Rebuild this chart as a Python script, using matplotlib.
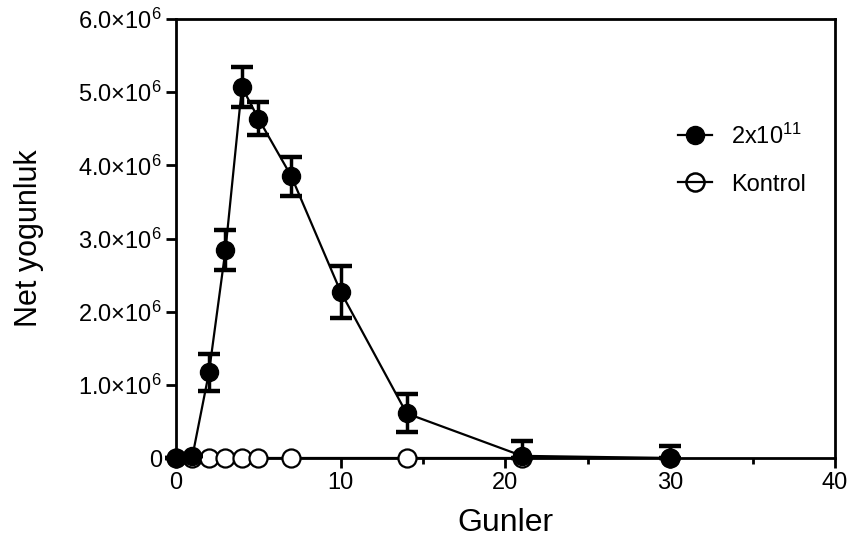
import matplotlib
matplotlib.use("Agg")
import matplotlib.pyplot as plt
from matplotlib.lines import Line2D
import numpy as np

plt.rcParams['font.family'] = ['Liberation Sans', 'DejaVu Sans']
plt.rcParams['mathtext.fontset'] = 'custom'
plt.rcParams['mathtext.rm'] = 'Liberation Sans'
plt.rcParams['mathtext.it'] = 'Liberation Sans'

days_treat = [0, 1, 2, 3, 4, 5, 7, 10, 14, 21, 30]
treat_vals = [0.0, 0.03e6, 1.17e6, 2.84e6, 5.07e6, 4.64e6, 3.85e6, 2.27e6, 0.61e6, 0.03e6, 0.0]
treat_err = [0.0, 0.0, 0.25e6, 0.27e6, 0.27e6, 0.23e6, 0.27e6, 0.35e6, 0.26e6, 0.2e6, 0.17e6]

days_ctrl = [0, 1, 2, 3, 4, 5, 7, 14, 21, 30]
ctrl_vals = [0, 0, 0, 0, 0, 0, 0, 0, 0, 0]

yticks = [0, 1e6, 2e6, 3e6, 4e6, 5e6, 6e6]
ytick_labels = ['0', '1.0×10$^{6}$', '2.0×10$^{6}$', '3.0×10$^{6}$',
                '4.0×10$^{6}$', '5.0×10$^{6}$', '6.0×10$^{6}$']
xticks = [0, 10, 20, 30, 40]
legend_labels = ['2x10$^{11}$', 'Kontrol']

fig = plt.figure(figsize=(8.52, 5.44), dpi=100)
ax = fig.add_axes([0.2066, 0.158, 0.7734, 0.807])

tv = np.array(treat_vals)
te = np.array(treat_err)
lower = np.minimum(te, tv)

ax.plot(days_ctrl, ctrl_vals, color='black', lw=1.6, marker='o', ms=13,
        mfc='white', mec='black', mew=1.6, clip_on=False, zorder=3)
ax.errorbar(days_treat, treat_vals, yerr=[lower, te], color='black', lw=1.6,
            marker='o', ms=13, mfc='black', mec='black', ecolor='black',
            elinewidth=2.5, capsize=8, capthick=3.2, zorder=4)
for line in ax.lines:
    line.set_clip_on(False)

ax.set_xlim(0, 40)
ax.set_ylim(0, 6e6)
ax.set_yticks(yticks)
ax.set_yticklabels(ytick_labels)
ax.set_xticks(xticks)
ax.set_xticks([5, 15, 25, 35], minor=True)
ax.tick_params(axis='both', which='major', labelsize=17, width=2, length=7, direction='out', pad=3)
ax.tick_params(axis='x', which='minor', width=2, length=4)
for s in ax.spines.values():
    s.set_linewidth(2)

ax.set_xlabel('Gunler', fontsize=23, labelpad=10)
ax.set_ylabel('Net yogunluk', fontsize=22)
ax.yaxis.set_label_coords(-0.2, 0.5)

handles = [
    Line2D([], [], color='black', lw=1.6, marker='o', ms=13, mfc='black', mec='black'),
    Line2D([], [], color='black', lw=1.6, marker='o', ms=13, mfc='none', mec='black', mew=1.8),
]
ax.legend(handles, legend_labels, loc='upper left',
          bbox_to_anchor=(0.762, 0.762), frameon=False, fontsize=17,
          handlelength=1.45, handletextpad=0.8, labelspacing=1.05,
          borderpad=0, borderaxespad=0)

fig.savefig('out.png', dpi=100)
